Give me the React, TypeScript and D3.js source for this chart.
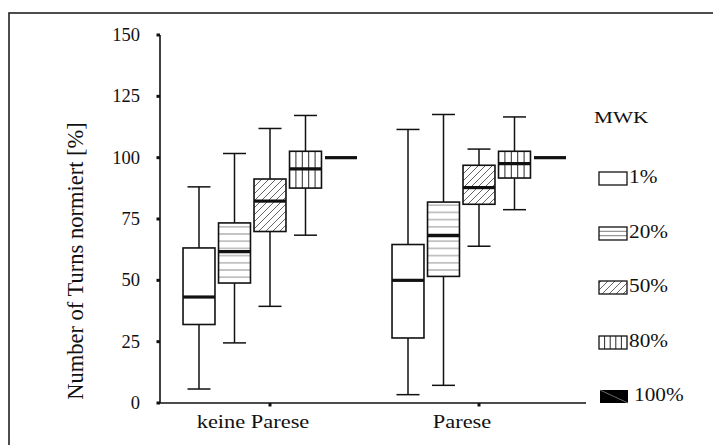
import React from "react";
import * as d3 from "d3";

const categories = ["keine Parese", "Parese"];
const series = ["1%", "20%", "50%", "80%", "100%"];
// per category, per series
const whiskerLow = [
  [5.7, 24.5, 39.4, 68.4, 100],
  [3.4, 7.2, 63.9, 78.8, 100],
];
const q1 = [
  [32, 48.9, 69.9, 87.6, 100],
  [26.5, 51.6, 81, 91.7, 100],
];
const median = [
  [43.2, 61.7, 82.3, 95.4, 100],
  [50, 68.2, 87.8, 97.6, 100],
];
const q3 = [
  [63.2, 73.4, 91.3, 102.6, 100],
  [64.6, 81.9, 96.9, 102.6, 100],
];
const whiskerHigh = [
  [88.1, 101.7, 111.9, 117.2, 100],
  [111.5, 117.6, 103.5, 116.6, 100],
];
const yTicks = [0, 25, 50, 75, 100, 125, 150];

const FONT = "Liberation Serif";
const INK = "#111";
const TS = { fontFamily: FONT };

export default function App() {
  const W = 713, H = 445;
  const y = d3.scaleLinear().domain([0, 150]).range([403, 35]);
  const x0 = d3.scaleBand<string>().domain(categories).range([165.5, 583.5]);
  const x1 = d3
    .scaleBand<string>()
    .domain(series)
    .range([-88.75, 88.75])
    .paddingInner(0.1)
    .paddingOuter(0.05);
  const bw = x1.bandwidth();
  const axisX = 160;
  const axisY = y(0);

  const fillFor = (s: string) =>
    s === "50%" ? "url(#diag)" : s === "20%" ? "url(#horiz)" : "#fff";

  const boxes: React.ReactNode[] = [];
  categories.forEach((c, ci) => {
    series.forEach((s, si) => {
      const cx = (x0(c) as number) + x0.bandwidth() / 2 + (x1(s) as number) + bw / 2;
      const left = cx - bw / 2;
      const yq1 = y(q1[ci][si]);
      const yq3 = y(q3[ci][si]);
      const ymed = y(median[ci][si]);
      const ylo = y(whiskerLow[ci][si]);
      const yhi = y(whiskerHigh[ci][si]);
      const capW = bw * 0.72;
      const key = `${ci}-${si}`;
      if (s === "100%") {
        boxes.push(
          <line key={key} x1={left} x2={left + bw} y1={ymed} y2={ymed} stroke={INK} strokeWidth={3.2} />
        );
        return;
      }
      boxes.push(
        <g key={key}>
          <line x1={cx} x2={cx} y1={yhi} y2={yq3} stroke={INK} strokeWidth={1.5} />
          <line x1={cx} x2={cx} y1={yq1} y2={ylo} stroke={INK} strokeWidth={1.5} />
          <line x1={cx - capW / 2} x2={cx + capW / 2} y1={yhi} y2={yhi} stroke={INK} strokeWidth={1.5} />
          <line x1={cx - capW / 2} x2={cx + capW / 2} y1={ylo} y2={ylo} stroke={INK} strokeWidth={1.5} />
          <rect x={left} y={yq3} width={bw} height={yq1 - yq3} fill={fillFor(s)} />
          {s === "80%" &&
            d3.range(1, 5).map((k) => (
              <line key={k} x1={left + (k * bw) / 5} x2={left + (k * bw) / 5} y1={yq3} y2={yq1} stroke={INK} strokeWidth={0.9} />
            ))}
          <rect x={left} y={yq3} width={bw} height={yq1 - yq3} fill="none" stroke={INK} strokeWidth={1.6} />
          <line x1={left} x2={left + bw} y1={ymed} y2={ymed} stroke={INK} strokeWidth={3.2} />
        </g>
      );
    });
  });

  const legendTops = [172, 227, 281, 336, 390];
  const legendH = 13;
  const legendX = 599;
  const legendW = 28;

  return (
    <svg
      width={W}
      height={H}
      style={{ position: "absolute", left: 0, top: 0, background: "#fff", fontFamily: FONT }}
    >
      <defs>
        <pattern id="horiz" patternUnits="userSpaceOnUse" width={8} height={7.2}>
          <rect width={8} height={7.2} fill="#fff" />
          <line x1={0} x2={8} y1={3.6} y2={3.6} stroke="#9a9a9a" strokeWidth={1.1} />
        </pattern>
        <pattern id="diag" patternUnits="userSpaceOnUse" width={7} height={7}>
          <rect width={7} height={7} fill="#fff" />
          <path d="M0,7 L7,0 M-1,1 L1,-1 M6,8 L8,6" stroke="#222" strokeWidth={0.7} />
        </pattern>
      </defs>

      {/* frame */}
      <rect x={9} y={13} width={800} height={600} fill="none" stroke="#222" strokeWidth={1.6} />

      {/* y axis */}
      <line x1={axisX} x2={axisX} y1={y(150)} y2={axisY} stroke={INK} strokeWidth={1.6} />
      {yTicks.map((t) => (
        <g key={t}>
          <line x1={axisX - 3.5} x2={axisX} y1={y(t)} y2={y(t)} stroke={INK} strokeWidth={3} />
          <text x={140} y={y(t)} dy="0.33em" textAnchor="end" fontSize={18.5} fill={INK} style={TS}>
            {t}
          </text>
        </g>
      ))}
      <text
        transform={`translate(83, 261) rotate(-90)`}
        textAnchor="middle"
        fontSize={22.5}
        fill={INK}
        style={TS}
      >
        Number of Turns normiert [%]
      </text>

      {/* x axis */}
      <line x1={axisX} x2={586} y1={axisY} y2={axisY} stroke={INK} strokeWidth={1.6} />
      {categories.map((c) => {
        const cx = (x0(c) as number) + x0.bandwidth() / 2;
        return (
          <g key={c}>
            <line x1={cx} x2={cx} y1={axisY} y2={axisY + 3.5} stroke={INK} strokeWidth={3} />
            <text
              transform={`translate(${cx - 17}, 428) scale(1.18, 1)`}
              textAnchor="middle"
              fontSize={19}
              fill={INK}
              style={TS}
            >
              {c}
            </text>
          </g>
        );
      })}

      {boxes}

      {/* legend */}
      <text transform="translate(594, 123) scale(1.25, 1)" fontSize={17} fill={INK} style={TS}>
        MWK
      </text>
      {series.map((s, i) => {
        const top = legendTops[i];
        let swatch: React.ReactNode;
        if (s === "100%") {
          swatch = (
            <g>
              <rect x={legendX + 1} y={top} width={legendW} height={legendH} fill="#000" />
              <line x1={legendX + 1} y1={top} x2={legendX + 1 + legendW} y2={top + legendH} stroke="#888" strokeWidth={0.8} />
            </g>
          );
        } else {
          swatch = (
            <g>
              <rect x={legendX} y={top} width={legendW} height={legendH} fill={s === "50%" ? "url(#diag)" : "#fff"} />
              {s === "20%" &&
                [1, 2].map((k) => (
                  <line key={k} x1={legendX} x2={legendX + legendW} y1={top + (k * legendH) / 3} y2={top + (k * legendH) / 3} stroke="#888" strokeWidth={1.1} />
                ))}
              {s === "80%" &&
                d3.range(1, 5).map((k) => (
                  <line key={k} x1={legendX + (k * legendW) / 5} x2={legendX + (k * legendW) / 5} y1={top} y2={top + legendH} stroke={INK} strokeWidth={0.9} />
                ))}
              <rect x={legendX} y={top} width={legendW} height={legendH} fill="none" stroke={INK} strokeWidth={1.3} />
            </g>
          );
        }
        return (
          <g key={s}>
            {swatch}
            <text
              transform={`translate(${s === "100%" ? 634 : 629}, ${top + legendH - 2}) scale(1.15, 1)`}
              fontSize={18.5}
              fill={INK}
              style={TS}
            >
              {s}
            </text>
          </g>
        );
      })}
    </svg>
  );
}
